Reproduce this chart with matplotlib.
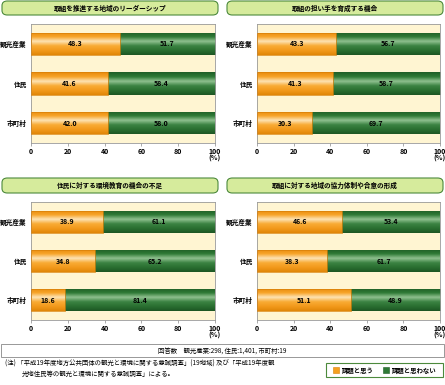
import matplotlib.pyplot as plt
import numpy as np
from matplotlib.colors import LinearSegmentedColormap
from matplotlib.patches import FancyBboxPatch, Rectangle

plt.rcParams['font.family'] = ['Noto Sans CJK JP', 'DejaVu Sans']

titles = ["取組を推進する地域のリーダーシップ", "取組の担い手を育成する機会",
          "住民に対する環境教育の機会の不足", "取組に対する地域の協力体制や合意の形成"]
categories = ["観光産業", "住民", "市町村"]
yes_vals = [[48.3, 41.6, 42.0], [43.3, 41.3, 30.3], [38.9, 34.8, 18.6], [46.6, 38.3, 51.1]]
no_vals = [[51.7, 58.4, 58.0], [56.7, 58.7, 69.7], [61.1, 65.2, 81.4], [53.4, 61.7, 48.9]]
legend_labels = ["課題と思う", "課題と思わない"]

W, H = 445, 385
fig = plt.figure(figsize=(W / 100, H / 100), dpi=100)


def rect(x0, y0, x1, y1):
    return [x0 / W, 1 - y1 / H, (x1 - x0) / W, (y1 - y0) / H]


orange_cm = LinearSegmentedColormap.from_list(
    "o", ["#e88a0c", "#f7a52a", "#fde3b4", "#f8ab35", "#f39a1c", "#e08608"])
green_cm = LinearSegmentedColormap.from_list(
    "g", ["#1f5e26", "#2f7a36", "#8fc08f", "#3b8342", "#2a6f31", "#1d5723"])
grad = np.linspace(0, 1, 64).reshape(-1, 1)


def gradient_bar(ax, patch, cmap):
    x, y = patch.get_x(), patch.get_y()
    w, h = patch.get_width(), patch.get_height()
    im = ax.imshow(grad, cmap=cmap, aspect="auto", extent=[x, x + w, y + h, y],
                   zorder=2, interpolation="bilinear")
    im.set_clip_path(patch)


axes_px = [(31, 24, 215, 143), (257, 24, 440, 143),
           (31, 202, 215, 320), (257, 202, 440, 320)]
title_px = [(2, 1, 218, 15), (227, 1, 443, 15), (2, 178, 218, 193), (227, 178, 443, 193)]

for i in range(4):
    # title box
    tx0, ty0, tx1, ty1 = title_px[i]
    fig.patches.append(FancyBboxPatch(
        (tx0 / W, 1 - ty1 / H), (tx1 - tx0) / W, (ty1 - ty0) / H,
        boxstyle="round,pad=0,rounding_size=0.012", transform=fig.transFigure,
        facecolor="#d6eb9c", edgecolor="#4c8a3c", linewidth=0.8))
    fig.text((tx0 + tx1) / 2 / W, 1 - (ty0 + ty1) / 2 / H, titles[i],
             ha="center", va="center", fontsize=4.8, fontweight="bold")

    ax = fig.add_axes(rect(*axes_px[i]))
    ax.set_facecolor("#fff5d2")
    y = np.arange(len(categories))
    yb = ax.barh(y, yes_vals[i], height=0.56, color="#f5a020",
                 edgecolor="#d98008", linewidth=0.5, zorder=3)
    nb = ax.barh(y, no_vals[i], left=yes_vals[i], height=0.56, color="#2f7a36",
                 linewidth=0, zorder=3)
    for p in yb.patches:
        p.set_facecolor("none")
        gradient_bar(ax, p, orange_cm)
    for p in nb.patches:
        p.set_facecolor("none")
        gradient_bar(ax, p, green_cm)
    for yi, a, b in zip(y, yes_vals[i], no_vals[i]):
        ax.text(a / 2, yi, f"{a:.1f}", ha="center", va="center",
                fontsize=5, fontweight="bold", zorder=4)
        ax.text(a + b / 2, yi, f"{b:.1f}", ha="center", va="center",
                fontsize=5, fontweight="bold", zorder=4)
    ax.set_xlim(0, 100)
    ax.set_ylim(2.5, -0.5)
    ax.set_yticks(y)
    ax.set_yticklabels(categories, fontsize=4.8, fontweight="bold")
    ax.set_xticks(range(0, 101, 20))
    ax.tick_params(axis="x", labelsize=5, length=2, width=0.5, pad=1.5, color="#888888")
    ax.tick_params(axis="y", length=0, pad=3)
    for lab in ax.get_xticklabels():
        lab.set_fontweight("bold")
    for s in ax.spines.values():
        s.set_color("#999999")
        s.set_linewidth(0.6)
    ax.text(1.0, -0.1, "(%)", transform=ax.transAxes, ha="center", va="top",
            fontsize=5, fontweight="bold")

# footer box
fig.patches.append(Rectangle((1 / W, 1 - 357 / H), 443 / W, 13 / H,
                             transform=fig.transFigure, facecolor="white",
                             edgecolor="#888888", linewidth=0.6))
fig.text(0.5, 1 - 350.5 / H, "回答数　観光産業:298, 住民:1,401, 市町村:19",
         ha="center", va="center", fontsize=4.6)
fig.text(5 / W, 1 - 364 / H,
         "(注) 「平成19年度地方公共団体の観光と環境に関する意識調査」(19地域) 及び「平成19年度観",
         ha="left", va="center", fontsize=4.6)
fig.text(22 / W, 1 - 374 / H, "光地住民等の観光と環境に関する意識調査」による。",
         ha="left", va="center", fontsize=4.6)

# legend
fig.patches.append(Rectangle((326 / W, 1 - 377 / H), 117 / W, 14 / H,
                             transform=fig.transFigure, facecolor="white",
                             edgecolor="#4c8a3c", linewidth=0.8))
fig.patches.append(Rectangle((333 / W, 1 - 373 / H), 6 / W, 6 / H,
                             transform=fig.transFigure, facecolor="#f5a020",
                             edgecolor="#d98008", linewidth=0.4))
fig.text(342 / W, 1 - 370 / H, legend_labels[0], ha="left", va="center",
         fontsize=4.6, fontweight="bold")
fig.patches.append(Rectangle((383 / W, 1 - 373 / H), 6 / W, 6 / H,
                             transform=fig.transFigure, facecolor="#2f7a36",
                             edgecolor="#1f5e26", linewidth=0.4))
fig.text(392 / W, 1 - 370 / H, legend_labels[1], ha="left", va="center",
         fontsize=4.6, fontweight="bold")

fig.savefig("out.png", dpi=100, facecolor="white")
